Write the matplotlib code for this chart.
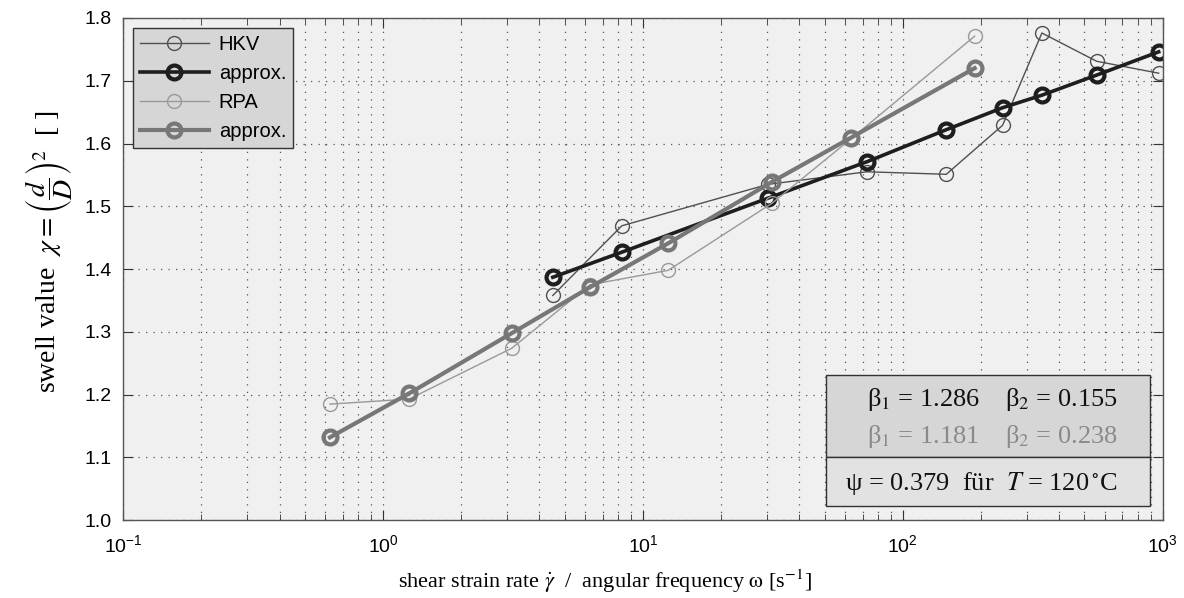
"""Swell value vs. shear strain rate / angular frequency (HKV and RPA)."""
import matplotlib
matplotlib.use("Agg")
import matplotlib.pyplot as plt
from matplotlib.patches import Rectangle
from matplotlib.ticker import LogLocator, NullFormatter

plt.rcParams["mathtext.fontset"] = "stix"
plt.rcParams["font.family"] = ["Liberation Sans", "DejaVu Sans"]

# HKV measurements and fitted approximation
hkv_x = [4.5, 8.3, 30.3, 72.8, 147, 242, 343, 557, 965]
hkv_y = [1.358, 1.469, 1.535, 1.555, 1.551, 1.629, 1.776, 1.731, 1.712]
hkv_fit = [1.387, 1.427, 1.513, 1.571, 1.622, 1.657, 1.677, 1.709, 1.746]

# RPA measurements and fitted approximation
rpa_x = [0.625, 1.26, 3.13, 6.25, 12.5, 31.4, 63, 189]
rpa_y = [1.185, 1.193, 1.274, 1.375, 1.398, 1.505, 1.607, 1.771]
rpa_fit = [1.132, 1.202, 1.298, 1.371, 1.441, 1.539, 1.609, 1.720]

y_ticks = [1.0, 1.1, 1.2, 1.3, 1.4, 1.5, 1.6, 1.7, 1.8]

fig = plt.figure(figsize=(11.84, 5.98), dpi=100)
ax = fig.add_axes([0.104, 0.130, 0.878, 0.840])
ax.set_facecolor("#f0f0f0")

ax.plot(hkv_x, hkv_y, color="#505050", lw=1.0, marker="o", ms=10, mfc="none",
        mew=1.0, label="HKV")
ax.plot(hkv_x, hkv_fit, color="#1e1e1e", lw=2.6, marker="o", ms=10, mfc="none",
        mew=3.0, label="approx.")
ax.plot(rpa_x, rpa_y, color="#999999", lw=1.0, marker="o", ms=10, mfc="none",
        mew=1.0, label="RPA")
ax.plot(rpa_x, rpa_fit, color="#777777", lw=3.0, marker="o", ms=10, mfc="none",
        mew=3.0, label="approx.")

ax.set_xscale("log")
ax.set_xlim(0.1, 1000)
ax.set_ylim(1.0, 1.8)
ax.set_yticks(y_ticks)
ax.set_yticklabels([f"{v:.1f}" for v in y_ticks])
ax.xaxis.set_minor_locator(LogLocator(base=10, subs=range(2, 10), numticks=20))
ax.xaxis.set_minor_formatter(NullFormatter())
ax.tick_params(which="both", direction="in", top=True, right=True,
               labelsize=14, color="#333333")
ax.tick_params(axis="x", which="major", pad=10)
ax.tick_params(axis="y", which="major", pad=8)
ax.tick_params(which="major", length=7)
ax.tick_params(which="minor", length=4)
ax.grid(True, which="both", linestyle=(0, (1, 5)), color="#555555", lw=0.9)
for sp in ax.spines.values():
    sp.set_color("#555555")
    sp.set_linewidth(1.0)

ax.set_xlabel(r"shear strain rate $\dot{\gamma}$  /  angular frequency $\mathrm{\omega}$ [s$^{-1}$]",
              family="Liberation Serif", fontsize=16)
ax.xaxis.set_label_coords(0.463, -0.094)
ax.set_ylabel(r"swell value  $\chi = \left(\dfrac{d}{D}\right)^2$  [ ]",
              family="Liberation Serif", fontsize=20)
ax.yaxis.set_label_coords(-0.047, 0.535)

leg = ax.legend(loc="upper left", fontsize=14.5, numpoints=1, handlelength=3.4,
                fancybox=False, framealpha=1, borderaxespad=0.5,
                labelspacing=0.5, borderpad=0.35, handletextpad=0.5)
leg.get_frame().set_facecolor("#d6d6d6")
leg.get_frame().set_edgecolor("#333333")

# parameter box, lower right
ax.add_patch(Rectangle((0.676, 0.125), 0.312, 0.164, transform=ax.transAxes,
                       facecolor="#d6d6d6", edgecolor="#333333", lw=1.0, zorder=5))
ax.add_patch(Rectangle((0.676, 0.028), 0.312, 0.097, transform=ax.transAxes,
                       facecolor="#e2e2e2", edgecolor="#333333", lw=1.0, zorder=5))
ax.text(0.957, 0.241, r"β$_1$ = 1.286    β$_2$ = 0.155",
        transform=ax.transAxes, ha="right", va="center", fontsize=19,
        family="Liberation Serif", color="#111111", zorder=6)
ax.text(0.957, 0.166, r"β$_1$ = 1.181    β$_2$ = 0.238",
        transform=ax.transAxes, ha="right", va="center", fontsize=19,
        family="Liberation Serif", color="#8a8a8a", zorder=6)
ax.text(0.957, 0.073, r"ψ = 0.379  für  $T$ = 120$\,^{\circ}$C",
        transform=ax.transAxes, ha="right", va="center", fontsize=19,
        family="Liberation Serif", color="#111111", zorder=6)

fig.savefig("out.png", dpi=100)
